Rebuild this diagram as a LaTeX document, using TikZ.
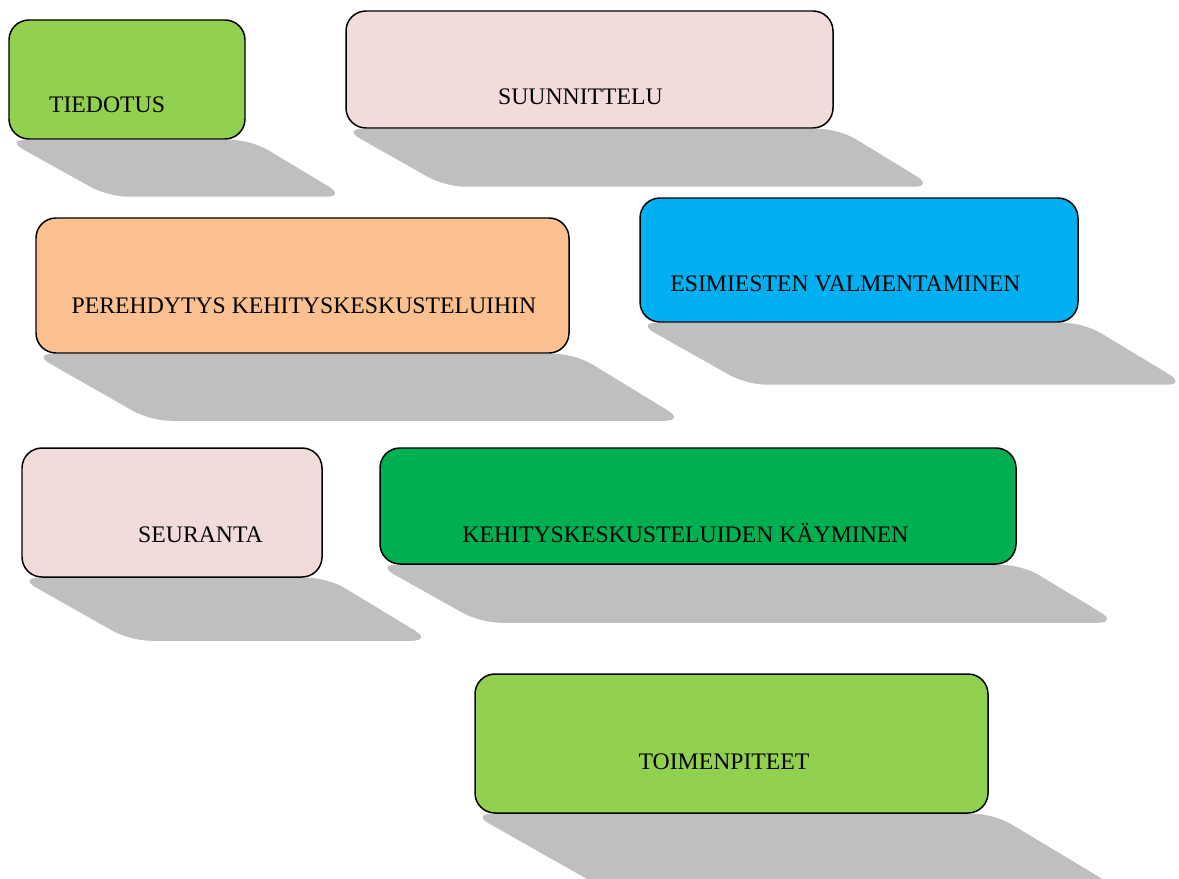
\documentclass[tikz,border=0pt]{standalone}
\usepackage{fontspec}
\setmainfont{Liberation Serif}
\usetikzlibrary{backgrounds}

\definecolor{lightgreen}{HTML}{92D050}
\definecolor{palepink}{HTML}{F2DCDB}
\definecolor{peach}{HTML}{FAC090}
\definecolor{skyblue}{HTML}{00B0F0}
\definecolor{darkgreen}{HTML}{00B050}
\definecolor{shadowgrey}{HTML}{BFBFBF}

% skewed shadow under a box: node, depth, shift
\newcommand{\boxshadow}[3]{%
 \fill[shadowgrey, rounded corners=0.4cm] ([xshift=-0.05cm]#1.south west) -- ([xshift=0.1cm]#1.south east)
  -- ([shift={(#3,-#2)}]#1.south east) -- ([shift={(#3,-#2)}]#1.south west) -- cycle;}

\tikzset{
 stagebox/.style={draw=black, line width=0.85pt, rounded corners=0.4cm, inner sep=0pt},
 stagetext/.style={font=\fontsize{13.5}{16}\selectfont, inner sep=0pt}
}

\begin{document}
\begin{tikzpicture}

 \useasboundingbox (0,0) rectangle (23.58,-17.58);
 \clip (0,0) rectangle (23.58,-17.58);

 \node[stagebox, fill=lightgreen, minimum width=4.72cm, minimum height=2.38cm] (tiedotus) at (2.54,-1.59) {};
 \node[stagetext] (tiedotustxt) at (2.14,-2.10) {TIEDOTUS};

 \node[stagebox, fill=palepink, minimum width=9.74cm, minimum height=2.34cm] (suunnittelu) at (11.79,-1.39) {};
 \node[stagetext] (suunnittelutxt) at (11.61,-1.94) {SUUNNITTELU};

 \node[stagebox, fill=peach, minimum width=10.66cm, minimum height=2.70cm] (perehdytys) at (6.05,-5.71) {};
 \node[stagetext] (perehdytystxt) at (6.08,-6.12) {PEREHDYTYS KEHITYSKESKUSTELUIHIN};

 \node[stagebox, fill=skyblue, minimum width=8.76cm, minimum height=2.48cm] (esimiehet) at (17.18,-5.20) {};
 \node[stagetext] (esimiehettxt) at (16.91,-5.68) {ESIMIESTEN VALMENTAMINEN};

 \node[stagebox, fill=palepink, minimum width=6.00cm, minimum height=2.58cm] (seuranta) at (3.44,-10.25) {};
 \node[stagetext] (seurantatxt) at (4.01,-10.70) {SEURANTA};

 \node[stagebox, fill=darkgreen, minimum width=12.72cm, minimum height=2.32cm] (keskustelut) at (13.96,-10.12) {};
 \node[stagetext] (keskustelut txt) at (13.71,-10.66) {KEHITYSKESKUSTELUIDEN KÄYMINEN};

 \node[stagebox, fill=lightgreen, minimum width=10.26cm, minimum height=2.78cm] (toimenpiteet) at (14.63,-14.87) {};
 \node[stagetext] (toimenpiteettxt) at (14.48,-15.24) {TOIMENPITEET};

 \begin{scope}[on background layer]
  \boxshadow{tiedotus}{1.14cm}{2.0cm}
  \boxshadow{suunnittelu}{1.16cm}{2.0cm}
  \boxshadow{perehdytys}{1.34cm}{2.3cm}
  \boxshadow{esimiehet}{1.24cm}{2.15cm}
  \boxshadow{seuranta}{1.26cm}{2.18cm}
  \boxshadow{keskustelut}{1.16cm}{2.02cm}
  \boxshadow{toimenpiteet}{1.5cm}{2.6cm}
 \end{scope}

\end{tikzpicture}
\end{document}
